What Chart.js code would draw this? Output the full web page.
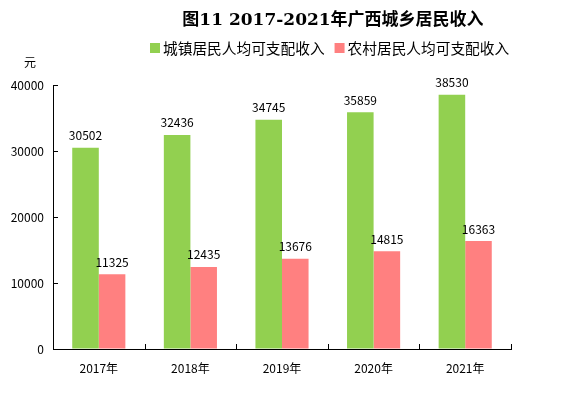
<!DOCTYPE html>
<html lang="zh">
<head>
    <meta charset="UTF-8">
    <title>广西城乡居民收入</title>
    <script src="https://cdn.jsdelivr.net/npm/chart.js@4.4.1/dist/chart.umd.min.js"></script>
    <style>
        body { margin: 0; background: #fff; }
        #wrap { position: relative; width: 577px; height: 395px; }
        #title {
            position: absolute; left: 0; top: 5px; width: 666px;
            text-align: center;
            font: bold 17px "DejaVu Serif", "Noto Sans CJK SC", serif;
            color: #000;
        }
    </style>
</head>
<body>
<div id="wrap">
    <canvas id="chart" width="577" height="395"></canvas>
    <div id="title">图11 2017-2021年广西城乡居民收入</div>
</div>

<script>
    const years = ['2017年', '2018年', '2019年', '2020年', '2021年'];
    const urbanIncome = [30502, 32436, 34745, 35859, 38530];
    const ruralIncome = [11325, 12435, 13676, 14815, 16363];
    const seriesNames = ['城镇居民人均可支配收入', '农村居民人均可支配收入'];
    const unitLabel = '元';

    const baseFont = '"Noto Sans CJK SC", "Noto Sans", sans-serif';

    // inside tick marks, value labels, unit text and legend
    const extras = {
        id: 'extras',
        afterDatasetsDraw(chart) {
            const ctx = chart.ctx;
            const xs = chart.scales.x, ys = chart.scales.y;
            ctx.save();
            ctx.strokeStyle = '#000';
            ctx.lineWidth = 1;
            ctx.beginPath();
            ys.ticks.forEach(t => {
                const py = Math.round(ys.getPixelForValue(t.value)) + 0.5;
                ctx.moveTo(xs.left, py);
                ctx.lineTo(xs.left + 5, py);
            });
            for (let i = 0; i <= years.length; i++) {
                const px = Math.round(xs.getPixelForValue(i - 0.5)) + 0.5;
                ctx.moveTo(px, ys.bottom);
                ctx.lineTo(px, ys.bottom - 5);
            }
            ctx.stroke();

            ctx.fillStyle = '#000';
            ctx.font = '12px ' + baseFont;
            ctx.textAlign = 'center';
            ctx.textBaseline = 'bottom';
            chart.data.datasets.forEach((ds, di) => {
                chart.getDatasetMeta(di).data.forEach((bar, i) => {
                    ctx.fillText(ds.data[i], bar.x, bar.y - 6);
                });
            });
            ctx.textBaseline = 'middle';
            ctx.fillText(unitLabel, 30, ys.top - 23);

            // legend
            let lx = 150;
            const ly = 48;
            ctx.font = '14.7px ' + baseFont;
            ctx.textAlign = 'left';
            chart.data.datasets.forEach(ds => {
                ctx.fillStyle = ds.backgroundColor;
                ctx.fillRect(lx, ly - 5, 10, 10);
                lx += 13;
                ctx.fillStyle = '#000';
                ctx.fillText(ds.label, lx, ly);
                lx += ctx.measureText(ds.label).width + 10;
            });
            ctx.restore();
        }
    };

    new Chart(document.getElementById('chart'), {
        type: 'bar',
        data: {
            labels: years,
            datasets: [
                { label: seriesNames[0], data: urbanIncome, backgroundColor: '#92D050' },
                { label: seriesNames[1], data: ruralIncome, backgroundColor: '#FF8080' }
            ]
        },
        options: {
            responsive: false,
            animation: false,
            layout: { padding: { top: 85, right: 66, left: 0, bottom: 0 } },
            datasets: { bar: { categoryPercentage: 0.58, barPercentage: 1.0 } },
            plugins: {
                legend: { display: false },
                tooltip: { enabled: false }
            },
            scales: {
                x: {
                    grid: { display: false },
                    border: { display: true, color: '#000', width: 1 },
                    ticks: { color: '#000', padding: 4, font: { family: baseFont, size: 12 } },
                    afterFit: s => { s.height = 46; }
                },
                y: {
                    min: 0, max: 40000,
                    grid: { drawOnChartArea: false, drawTicks: false },
                    border: { display: true, color: '#000', width: 1 },
                    ticks: {
                        stepSize: 10000, color: '#000', padding: 9,
                        font: { family: baseFont, size: 12 },
                        callback: v => String(v)
                    },
                    afterFit: s => { s.width = 53; }
                }
            }
        },
        plugins: [extras]
    });
</script>
</body>
</html>
